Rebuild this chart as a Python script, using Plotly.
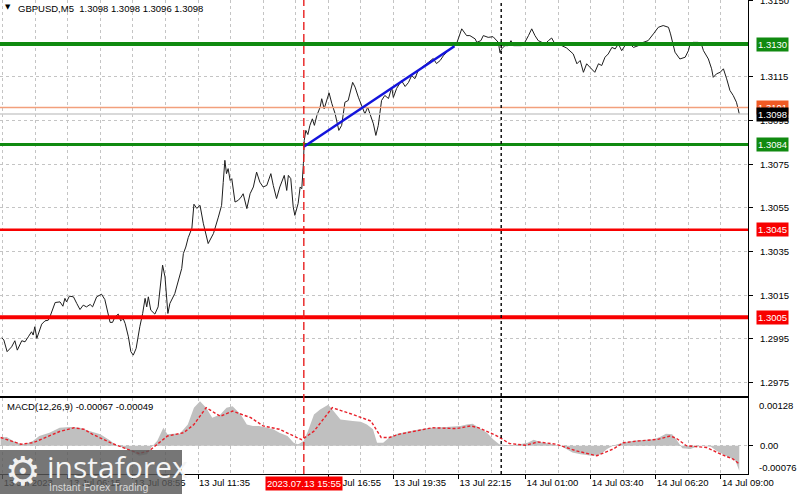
import plotly.graph_objects as go

D1 = "2023-07-13 "
D2 = "2023-07-14 "

# ---------------- price (GBPUSD M5, close) ----------------
price_t13 = ["03:33","03:38","03:46","03:57","04:05","04:11","04:22","04:30","04:38","04:46","04:50","04:54","04:59",
             "05:05","05:11","05:19","05:27","05:31","05:39","05:44","05:56","06:03","06:08","06:12","06:19","06:29",
             "06:37","06:45","06:53","07:01","07:10","07:16","07:26","07:38","07:46","07:52","07:59","08:05","08:11",
             "08:19","08:25","08:31","08:36","08:44","08:50","08:56","09:03","09:12","09:19","09:25","09:29","09:33",
             "09:39","09:49","09:57","10:08","10:14","10:21","10:26","10:38","10:47","10:55","10:59","11:05","11:11",
             "11:20","11:25","11:32","11:40","11:48","12:00","12:13","12:25","12:33","12:37","12:41","12:45","12:49",
             "12:54","12:58","13:06","13:14","13:21","13:26","13:35","13:43","13:51","13:59","14:07","14:15","14:24",
             "14:34","14:40","14:48","14:56","15:01","15:07","15:13","15:17","15:23","15:29","15:33","15:41","15:46",
             "15:50","15:54","15:56","16:00","16:05","16:10","16:16","16:21","16:27","16:35","16:39","16:45","16:51",
             "16:57","17:04","17:12","17:21","17:28","17:36","17:44","17:55","18:01","18:09","18:17","18:25","18:32",
             "18:38","18:46","18:52","18:58","19:06","19:14","19:23","19:31","19:35","19:43","19:55","20:04","20:12",
             "20:20","20:28","20:36","20:45","21:01","21:13","21:21","21:30","21:38","21:50","22:06","22:10","22:23",
             "22:35","22:43","22:56","23:00","23:10","23:16","23:28","23:40","23:49","23:53","23:57"]
price_v13 = [1.29956,1.29945,1.29892,1.29914,1.29942,1.29899,1.29942,1.29937,1.29960,1.29983,1.29968,1.30006,1.29953,
             1.29991,1.30018,1.30033,1.30036,1.30051,1.30090,1.30117,1.30120,1.30100,1.30136,1.30120,1.30146,1.30143,
             1.30113,1.30085,1.30105,1.30097,1.30108,1.30097,1.30143,1.30155,1.30131,1.30082,1.30026,1.30026,1.30051,
             1.30064,1.30033,1.30044,1.30021,1.29960,1.29892,1.29876,1.29907,1.30006,1.30067,1.30136,1.30097,1.30143,
             1.30082,1.30064,1.30097,1.30288,1.30234,1.30067,1.30113,1.30158,1.30219,1.30273,1.30341,1.30371,1.30414,
             1.30457,1.30567,1.30548,1.30562,1.30480,1.30387,1.30433,1.30508,1.30562,1.30667,1.30768,1.30707,1.30730,
             1.30676,1.30684,1.30577,1.30585,1.30600,1.30615,1.30547,1.30615,1.30646,1.30714,1.30668,1.30646,1.30653,
             1.30707,1.30653,1.30593,1.30646,1.30668,1.30699,1.30630,1.30699,1.30684,1.30554,1.30516,1.30570,1.30646,
             1.30638,1.30753,1.30859,1.30905,1.30886,1.30928,1.30958,1.30928,1.30973,1.31011,1.31050,1.31004,1.31042,
             1.31077,1.31027,1.30981,1.30905,1.30928,1.31034,1.31042,1.31125,1.31103,1.31057,1.31019,1.30981,1.31011,
             1.30981,1.30935,1.30882,1.30928,1.31042,1.31065,1.31051,1.31101,1.31056,1.31097,1.31133,1.31106,1.31124,
             1.31156,1.31142,1.31179,1.31193,1.31215,1.31234,1.31211,1.31225,1.31247,1.31270,1.31293,1.31300,1.31370,
             1.31339,1.31339,1.31324,1.31308,1.31316,1.31339,1.31331,1.31334,1.31316,1.31308,1.31261]
price_t14 = ["00:01","00:09","00:17","00:24","00:30","00:50","00:58","01:07","01:15","01:23","01:31","01:40","01:48",
             "01:56","02:04","02:12","02:29","02:41","02:57","03:06","03:14","03:22","03:30","03:38","03:50","03:59",
             "04:07","04:15","04:23","04:32","04:40","04:48","04:56","05:04","05:12","05:25","05:37","05:49","06:01",
             "06:14","06:26","06:38","06:51","06:56","07:03","07:07","07:19","07:32","07:40","07:44","07:52","08:04",
             "08:13","08:17","08:29","08:37","08:41","08:49","08:58","09:06","09:14","09:22","09:30","09:38","09:42",
             "09:45"]
price_v14 = [1.31278,1.31293,1.31293,1.31316,1.31293,1.31293,1.31308,1.31339,1.31370,1.31339,1.31316,1.31308,1.31301,
             1.31316,1.31328,1.31301,1.31293,1.31282,1.31255,1.31210,1.31225,1.31171,1.31210,1.31194,1.31171,1.31210,
             1.31202,1.31240,1.31255,1.31285,1.31278,1.31301,1.31270,1.31293,1.31308,1.31285,1.31293,1.31308,1.31316,
             1.31347,1.31377,1.31385,1.31377,1.31347,1.31301,1.31263,1.31232,1.31240,1.31270,1.31301,1.31308,1.31308,
             1.31293,1.31270,1.31232,1.31187,1.31148,1.31164,1.31171,1.31187,1.31141,1.31088,1.31065,1.31034,1.31004,
             1.30980]

# ---------------- MACD(12,26,9) ----------------
hist_t13 = ["03:30","03:45","04:00","04:20","04:35","04:50","05:05","05:30","05:55","06:20","06:45","07:10","07:35",
            "08:00","08:10","08:25","08:50","09:10","09:30","09:40","09:55","10:10","10:20","10:35","10:50","11:10",
            "11:25","11:40","11:55","12:10","12:30","12:45","13:00","13:20","13:35","13:50","14:05","14:25","14:40",
            "14:55","15:15","15:30","15:40","15:45","15:55","16:05","16:20","16:35","16:55","17:05","17:25","17:40",
            "17:55","18:15","18:30","18:45","18:55","19:10","19:25","19:45","20:15","20:40","21:10","21:45","22:20",
            "22:35","22:50","23:05","23:25","23:40","23:55"]
hist_v13 = [0.00022,0.00023,0.00013,0.00004,0.00006,0.00013,0.00026,0.00035,0.00048,0.00050,0.00048,0.00039,0.00031,
            0.00013,0.00004,-0.00003,-0.00014,-0.00027,-0.00023,-0.00005,0.00013,0.00048,0.00031,0.00032,0.00032,0.00057,
            0.00102,0.00119,0.00102,0.00075,0.00084,0.00102,0.00106,0.00084,0.00057,0.00053,0.00053,0.00048,0.00044,
            0.00035,0.00026,0.00008,0.00004,0.00006,0.00013,0.00039,0.00084,0.00097,0.00110,0.00097,0.00070,0.00068,
            0.00066,0.00064,0.00057,0.00044,0.00008,0.00008,0.00022,0.00032,0.00039,0.00044,0.00048,0.00050,0.00053,
            0.00057,0.00059,0.00048,0.00035,0.00017,0.00004]
hist_t14 = ["00:10","00:30","00:45","01:05","01:20","01:35","01:55","02:05","02:25","02:40","02:55","03:15","03:30",
            "03:45","04:05","04:20","04:35","04:45","05:00","05:25","05:50","06:15","06:30","06:45","07:00","07:10",
            "07:25","07:45","08:00","08:15","08:35","08:50","09:05","09:20","09:35","09:45"]
hist_v14 = [0.00002,0.00002,0.00004,0.00008,0.00016,0.00010,0.00006,0.00004,0.00000,-0.00009,-0.00018,-0.00023,-0.00025,
            -0.00028,-0.00023,-0.00009,0.00000,0.00004,0.00008,0.00013,0.00015,0.00017,0.00023,0.00032,0.00031,0.00017,
            -0.00007,-0.00009,-0.00003,0.00000,-0.00003,-0.00014,-0.00023,-0.00031,-0.00040,-0.00067]
sig_t13 = ["03:30","03:55","04:20","04:50","05:30","05:55","06:30","06:55","07:15","08:00","08:40","09:10","09:35",
           "09:55","10:20","11:00","11:25","11:55","12:30","13:00","13:45","14:15","14:55","15:30","15:50","16:20",
           "17:05","17:55","18:40","19:05","19:25","19:50","21:10","22:10","22:45","23:05","23:50"]
sig_v13 = [0.00022,0.00013,0.00004,0.00008,0.00026,0.00038,0.00048,0.00044,0.00031,0.00008,-0.00009,-0.00021,-0.00014,
           0.00004,0.00026,0.00035,0.00057,0.00102,0.00079,0.00093,0.00075,0.00053,0.00044,0.00026,0.00016,0.00039,
           0.00102,0.00084,0.00066,0.00022,0.00022,0.00031,0.00048,0.00046,0.00053,0.00048,0.00026]
sig_t14 = ["00:20","01:00","01:30","02:15","03:05","03:55","04:35","05:00","05:40","06:25","06:55","07:10","07:35",
           "08:25","09:00","09:30","09:45"]
sig_v14 = [0.00006,0.00001,0.00010,0.00004,-0.00014,-0.00027,-0.00009,0.00008,0.00013,0.00017,0.00026,0.00020,0.00000,
           -0.00005,-0.00023,-0.00036,-0.00049]

# ---------------- levels / objects ----------------
green_levels = [1.3130, 1.3084]
green_widths = [4, 3]
red_levels = [1.3045, 1.3005]
red_widths = [2.5, 4]
orange_level = 1.3101
bid_level = 1.3098
trend_t = [D1 + "15:55", D1 + "22:05"]
trend_p = [1.3083, 1.3129]
event_t = D1 + "15:55"
separator_t = D2 + "00:00"

price_ticks = [1.2975, 1.2995, 1.3015, 1.3035, 1.3055, 1.3075, 1.3095, 1.3115, 1.3150]
macd_range = [-0.00076, 0.00128]
price_range = [1.29689, 1.31502]
x_range = [D1 + "03:28:30", D2 + "10:06:24"]

label_t = [D1 + "03:35", D1 + "06:15", D1 + "08:55", D1 + "11:35", D1 + "16:55",
           D1 + "19:35", D1 + "22:15", D2 + "01:00", D2 + "03:40", D2 + "06:20", D2 + "09:00"]
label_txt = ["13 Jul 2023", "13 Jul 06:15", "13 Jul 08:55", "13 Jul 11:35", "13 Jul 16:55",
             "13 Jul 19:35", "13 Jul 22:15", "14 Jul 01:00", "14 Jul 03:40", "14 Jul 06:20", "14 Jul 09:00"]
mid_t = [D1 + "04:55", D1 + "07:35", D1 + "10:15", D1 + "12:55", D1 + "14:15", D1 + "15:35", D1 + "18:15",
         D1 + "20:55", D1 + "23:35", D2 + "02:20", D2 + "05:00", D2 + "07:40"]

FONT = "Liberation Sans, Arial, sans-serif"
GREEN = "#108a10"
RED = "#f80000"
GRID = "#c4c4c4"
XR = 0.935   # right edge of panes (paper)

fig = go.Figure()
fig.add_trace(go.Scatter(x=[D1 + t for t in price_t13] + [D2 + t for t in price_t14],
                         y=price_v13 + price_v14, mode="lines",
                         line=dict(color="#1e1e1e", width=1), xaxis="x", yaxis="y"))
fig.add_trace(go.Scatter(x=[D1 + t for t in hist_t13] + [D2 + t for t in hist_t14],
                         y=hist_v13 + hist_v14, mode="none", fill="tozeroy",
                         fillcolor="#c0c0c0", xaxis="x2", yaxis="y2"))
fig.add_trace(go.Scatter(x=[D1 + t for t in sig_t13] + [D2 + t for t in sig_t14],
                         y=sig_v13 + sig_v14, mode="lines",
                         line=dict(color="#e8202a", width=1.4, dash="3px,2px"), xaxis="x2", yaxis="y2"))

shapes = []
shapes.append(dict(type="line", xref="x domain", yref="y", x0=0, x1=1, y0=orange_level, y1=orange_level,
                   line=dict(color="#f2a07c", width=1.6), layer="above"))
shapes.append(dict(type="line", xref="x domain", yref="y", x0=0, x1=1, y0=bid_level, y1=bid_level,
                   line=dict(color="#cccccc", width=1.5), layer="above"))
for lv, w in zip(green_levels, green_widths):
    shapes.append(dict(type="line", xref="x domain", yref="y", x0=0, x1=1, y0=lv, y1=lv,
                       line=dict(color=GREEN, width=w), layer="above"))
for lv, w in zip(red_levels, red_widths):
    shapes.append(dict(type="line", xref="x domain", yref="y", x0=0, x1=1, y0=lv, y1=lv,
                       line=dict(color=RED, width=w), layer="above"))
shapes.append(dict(type="line", xref="x", yref="y", x0=trend_t[0], x1=trend_t[1], y0=trend_p[0], y1=trend_p[1],
                   line=dict(color="#1414dc", width=2.5), layer="above"))
shapes.append(dict(type="line", xref="x", yref="paper", x0=event_t, x1=event_t, y0=1 - 474 / 494, y1=1,
                   line=dict(color="#e82020", width=1.4, dash="8px,4px"), layer="above"))
shapes.append(dict(type="line", xref="x", yref="paper", x0=separator_t, x1=separator_t, y0=1 - 474 / 494, y1=1,
                   line=dict(color="#000000", width=1.4, dash="3px,3px"), layer="above"))
shapes.append(dict(type="rect", xref="paper", yref="paper", x0=0, x1=182 / 800, y0=0, y1=1 - 450 / 494,
                   fillcolor="rgba(88,88,88,0.82)", line=dict(width=0), layer="above"))

annotations = []


def price_box(level, text, bg):
    annotations.append(dict(xref="paper", yref="y", x=XR, y=level, xanchor="left", yanchor="middle",
                            xshift=8, text=text, showarrow=False, bgcolor=bg, borderpad=1,
                            font=dict(family=FONT, size=9.5, color="white")))


price_box(green_levels[0], "1.3130", GREEN)
price_box(orange_level, "1.3101", "#f05a24")
price_box(bid_level, "1.3098", "#000000")
price_box(green_levels[1], "1.3084", GREEN)
price_box(red_levels[0], "1.3045", RED)
price_box(red_levels[1], "1.3005", RED)

annotations.append(dict(xref="paper", yref="y2", x=XR, y=macd_range[1], xanchor="left", yanchor="middle",
                        xshift=9, yshift=-7, text="0.00128", showarrow=False,
                        font=dict(family=FONT, size=9.5, color="black")))
annotations.append(dict(xref="paper", yref="y2", x=XR, y=macd_range[0], xanchor="left", yanchor="middle",
                        xshift=9, yshift=7, text="-0.00076", showarrow=False,
                        font=dict(family=FONT, size=9.5, color="black")))

annotations.append(dict(xref="paper", yref="paper", x=3 / 800, y=1 - 7 / 494, xanchor="left", yanchor="middle",
                        text="▼", showarrow=False, font=dict(family="DejaVu Sans", size=7, color="black")))
annotations.append(dict(xref="paper", yref="paper", x=16 / 800, y=1 - 8 / 494, xanchor="left", yanchor="middle",
                        text="GBPUSD,M5\u00a0\u00a01.3098 1.3098 1.3096 1.3098", showarrow=False,
                        font=dict(family=FONT, size=9.5, color="black")))
annotations.append(dict(xref="paper", yref="paper", x=5 / 800, y=1 - 406 / 494, xanchor="left", yanchor="middle",
                        text="MACD(12,26,9) -0.00067 -0.00049", showarrow=False,
                        font=dict(family=FONT, size=9.5, color="black")))
annotations.append(dict(xref="x2", yref="paper", x=event_t, y=1 - 483 / 494, xanchor="center", yanchor="middle",
                        text="2023.07.13 15:55", showarrow=False, bgcolor="#f80000", borderpad=1,
                        font=dict(family=FONT, size=9.5, color="white")))
annotations.append(dict(xref="paper", yref="paper", x=23 / 800, y=1 - 471 / 494, xanchor="center", yanchor="middle",
                        text="⚙", showarrow=False, font=dict(family="DejaVu Sans", size=40, color="#f0f0f0")))
annotations.append(dict(xref="paper", yref="paper", x=45 / 800, y=1 - 466 / 494, xanchor="left", yanchor="middle",
                        text="instaforex", showarrow=False, font=dict(family="Open Sans", size=30, color="#f4f4f4")))
annotations.append(dict(xref="paper", yref="paper", x=47 / 800, y=1 - 487 / 494, xanchor="left", yanchor="middle",
                        text="Instant Forex Trading", showarrow=False,
                        font=dict(family=FONT, size=10.5, color="#d8d8d8")))

grid_all = label_t + mid_t

fig.update_layout(
    width=800, height=494, margin=dict(l=0, r=0, t=0, b=0),
    paper_bgcolor="white", plot_bgcolor="white", showlegend=False,
    font=dict(family=FONT, size=9.5, color="black"),
    xaxis=dict(domain=[0, XR], anchor="y", type="date", range=x_range, tickvals=grid_all,
               showticklabels=False, ticks="", showgrid=True, gridcolor=GRID, griddash="3px,3px", gridwidth=1,
               showline=True, linecolor="black", linewidth=1, zeroline=False, automargin=False),
    yaxis=dict(domain=[1 - 396 / 494, 1], anchor="x", side="right", range=price_range, tickvals=price_ticks,
               tickformat=".4f", ticks="outside", ticklen=4, tickcolor="black", ticklabelstandoff=5,
               ticklabeloverflow="allow",
               showgrid=True, gridcolor=GRID, griddash="3px,3px", gridwidth=1,
               showline=True, mirror=True, linecolor="black", linewidth=1, zeroline=False, automargin=False,
               tickfont=dict(family=FONT, size=9.5, color="black")),
    xaxis2=dict(domain=[0, XR], anchor="y2", type="date", range=x_range, tickvals=label_t, ticktext=label_txt,
                ticklabelposition="outside right", ticks="outside", ticklen=4, tickcolor="black",
                showgrid=True, gridcolor=GRID, griddash="3px,3px", gridwidth=1,
                minor=dict(tickvals=mid_t, showgrid=True, gridcolor=GRID, griddash="3px,3px", ticks=""),
                showline=True, mirror=True, linecolor="black", linewidth=1, zeroline=False, automargin=False,
                tickfont=dict(family=FONT, size=9.5, color="black")),
    yaxis2=dict(domain=[1 - 474 / 494, 1 - 398 / 494], anchor="x2", side="right", range=macd_range,
                tickvals=[0], ticktext=["0.00"], ticks="outside", ticklen=4, tickcolor="black", ticklabelstandoff=5,
                showgrid=True, gridcolor=GRID, griddash="3px,3px", gridwidth=1,
                showline=True, mirror=True, linecolor="black", linewidth=1, zeroline=False, automargin=False,
                tickfont=dict(family=FONT, size=9.5, color="black")),
    shapes=shapes, annotations=annotations,
)

fig.write_html("out.html", config={"displayModeBar": False},
               post_script="document.body.style.margin='0';document.body.style.overflow='hidden';")
